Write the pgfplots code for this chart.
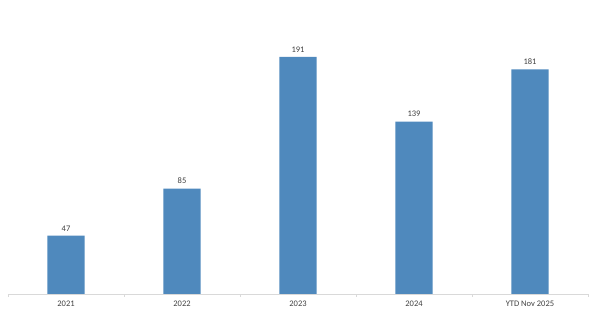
\documentclass[border=0pt]{standalone}
\usepackage{pgfplots}
\pgfplotsset{compat=1.18}
\usepackage{fontspec}
\setmainfont{Carlito}
\definecolor{barblue}{RGB}{79,137,189}
\definecolor{axgray}{RGB}{217,217,217}
\definecolor{txt}{RGB}{64,64,64}
\begin{document}
\begin{tikzpicture}[x=1pt,y=1pt]
\path[use as bounding box] (0,0) rectangle (600,329);
\begin{axis}[
  at={(8pt,35pt)}, anchor=south west,
  scale only axis,
  width=580pt, height=285.4pt,
  xmin=-0.5, xmax=4.5, ymin=0, ymax=230,
  axis y line=none,
  axis x line*=bottom,
  x axis line style={draw=axgray, line width=0.8pt, -},
  xtick={0,1,2,3,4},
  xticklabels={2021,2022,2023,2024,YTD Nov 2025},
  major x tick style={draw=none},
  minor xtick={-0.5,0.5,1.5,2.5,3.5,4.5},
  minor x tick style={draw=axgray, line width=0.6pt},
  minor tick length=3pt,
  xtick align=outside,
  ticklabel style={font=\fontsize{8.5}{10}\selectfont, text=txt},
  xticklabel style={yshift=1pt},
  /pgf/number format/assume math mode=true,
  ybar, bar width=37pt,
  nodes near coords,
  nodes near coords style={font=\fontsize{8.5}{10}\selectfont, text=txt, yshift=1pt},
  clip=false,
]
\addplot[fill=barblue, draw=none] coordinates {(0,47) (1,85) (2,191) (3,139) (4,181)};
\end{axis}
\end{tikzpicture}
\end{document}
